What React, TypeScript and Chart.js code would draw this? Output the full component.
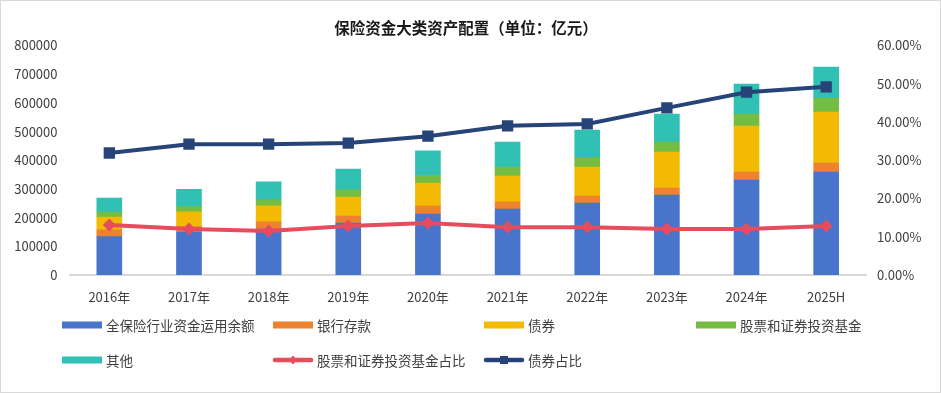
import React, { useEffect, useRef } from "react";
import { Chart, registerables } from "chart.js";

Chart.register(...registerables);

const categories = ["2016年", "2017年", "2018年", "2019年", "2020年", "2021年", "2022年", "2023年", "2024年", "2025H"];
const totalFunds = [133910, 149206, 160500, 181000, 212600, 230000, 251000, 278800, 331000, 359000];
const bankDeposits = [24844, 19274, 24700, 24600, 28000, 24400, 24400, 24200, 28000, 31000];
const bonds = [43050, 51613, 55800, 66000, 80000, 90700, 101000, 125700, 160000, 178000];
const stocksFunds = [17788, 18354, 22000, 25400, 27000, 31400, 33800, 35000, 42000, 49000];
const others = [48228, 59966, 61500, 72000, 85000, 87000, 95000, 97400, 104700, 108000];
const stockRatio = [0.131, 0.12, 0.115, 0.128, 0.136, 0.125, 0.125, 0.12, 0.12, 0.128];
const bondRatio = [0.319, 0.342, 0.342, 0.345, 0.363, 0.39, 0.395, 0.437, 0.478, 0.492];
const leftTicks = [0, 100000, 200000, 300000, 400000, 500000, 600000, 700000, 800000];

const TITLE = "保险资金大类资产配置（单位：亿元）";
const FONT = "'Noto Sans CJK SC', 'Noto Sans', sans-serif";
const TEXT = "#404040";

const legendPlugin = {
  id: "customLegend",
  afterDraw(chart: any) {
    const ctx = chart.ctx;
    ctx.save();
    // border
    ctx.strokeStyle = "#d9d9d9";
    ctx.lineWidth = 1;
    ctx.strokeRect(0.5, 0.5, chart.width - 1, chart.height - 1);
    // title
    ctx.fillStyle = "#1a1a1a";
    ctx.font = "bold 15.5px " + FONT;
    ctx.textAlign = "center";
    ctx.textBaseline = "middle";
    ctx.fillText(TITLE, 466, 28);
    // legend
    const cols = [62, 273, 484, 696];
    const rows = [325, 360];
    ctx.font = "13.5px " + FONT;
    ctx.textAlign = "left";
    chart.data.datasets.forEach((ds: any, i: number) => {
      const x = cols[i % 4];
      const y = rows[Math.floor(i / 4)];
      if (ds.type === "line") {
        ctx.strokeStyle = ds.borderColor;
        ctx.lineWidth = 4.5;
        ctx.lineCap = "round";
        ctx.beginPath();
        ctx.moveTo(x + 2, y);
        ctx.lineTo(x + 38, y);
        ctx.stroke();
        ctx.fillStyle = ds.borderColor;
        if (ds.pointStyle === "rect") {
          ctx.fillRect(x + 16, y - 4, 8, 8);
        } else {
          ctx.beginPath();
          ctx.moveTo(x + 20, y - 4.5);
          ctx.lineTo(x + 24, y);
          ctx.lineTo(x + 20, y + 4.5);
          ctx.lineTo(x + 16, y);
          ctx.closePath();
          ctx.fill();
        }
      } else {
        ctx.fillStyle = ds.backgroundColor;
        ctx.fillRect(x, y - 3.5, 40, 7);
      }
      ctx.fillStyle = TEXT;
      ctx.fillText(ds.label, x + 44, y + 0.5);
    });
    ctx.restore();
  },
};

export default function App() {
  const ref = useRef<HTMLCanvasElement>(null);
  useEffect(() => {
    if (!ref.current) return;
    const barDs = (label: string, data: number[], color: string) => ({
      type: "bar" as const,
      label,
      data,
      backgroundColor: color,
      borderWidth: 0,
      stack: "s",
      yAxisID: "y",
      order: 2,
      barThickness: 25,
    });
    const chart = new Chart(ref.current, {
      type: "bar",
      data: {
        labels: categories,
        datasets: [
          barDs("全保险行业资金运用余额", totalFunds, "#4874CB"),
          barDs("银行存款", bankDeposits, "#EE822F"),
          barDs("债券", bonds, "#F2BA02"),
          barDs("股票和证券投资基金", stocksFunds, "#75BD42"),
          barDs("其他", others, "#30C0B4"),
          {
            type: "line" as const,
            label: "股票和证券投资基金占比",
            data: stockRatio,
            borderColor: "#E54C5E",
            backgroundColor: "#E54C5E",
            borderWidth: 4,
            pointStyle: "rectRot",
            pointRadius: 6.5,
            pointBorderWidth: 0,
            yAxisID: "y1",
            order: 1,
          } as any,
          {
            type: "line" as const,
            label: "债券占比",
            data: bondRatio,
            borderColor: "#264478",
            backgroundColor: "#264478",
            borderWidth: 4,
            pointStyle: "rect",
            pointRadius: 8,
            pointBorderWidth: 0,
            yAxisID: "y1",
            order: 1,
          } as any,
        ],
      },
      options: {
        responsive: false,
        animation: false,
        layout: { padding: { top: 45.5, bottom: 88, left: 0, right: 0 } },
        plugins: { legend: { display: false }, title: { display: false }, tooltip: { enabled: false } },
        scales: {
          x: {
            stacked: true,
            grid: { display: false, drawTicks: false },
            border: { display: true, color: "#d9d9d9", width: 2 },
            ticks: { color: TEXT, font: { size: 13, family: FONT }, padding: 14, maxRotation: 0, autoSkip: false },
            afterFit: (s: any) => { s.height = 30; },
          },
          y: {
            stacked: true,
            position: "left",
            min: 0,
            max: 800000,
            grid: { display: false, drawTicks: false },
            border: { display: false },
            afterBuildTicks: (s: any) => { s.ticks = leftTicks.map((v) => ({ value: v })); },
            ticks: { color: TEXT, font: { size: 13, family: FONT }, padding: 12, callback: (v: any) => String(v) },
            afterFit: (s: any) => { s.width = 69.5; },
          },
          y1: {
            position: "right",
            min: 0,
            max: 0.6,
            grid: { display: false, drawTicks: false },
            border: { display: false },
            ticks: {
              stepSize: 0.1,
              color: TEXT,
              font: { size: 13, family: FONT },
              padding: 11,
              callback: (v: any) => (Number(v) * 100).toFixed(2) + "%",
            },
            afterFit: (s: any) => { s.width = 75; },
          },
        },
      } as any,
      plugins: [legendPlugin],
    });
    return () => chart.destroy();
  }, []);
  return (
    <div style={{ position: "fixed", left: 0, top: 0, width: 941, height: 393, background: "#fff" }}>
      <canvas ref={ref} width={941} height={393} style={{ display: "block" }} />
    </div>
  );
}
